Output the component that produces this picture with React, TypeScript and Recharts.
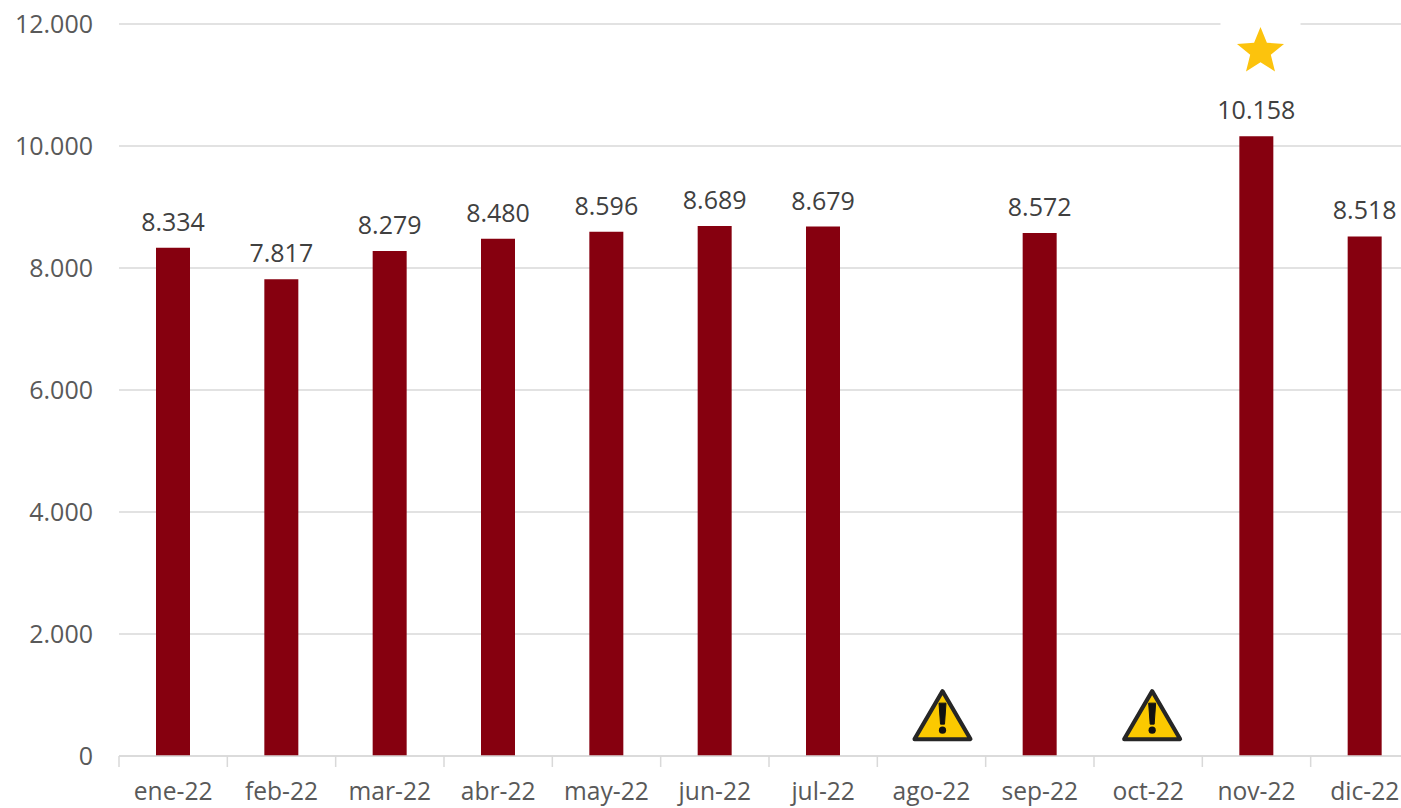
import { Bar, BarChart, CartesianGrid, LabelList, ReferenceDot, XAxis, YAxis } from 'recharts';

const months = ['ene-22', 'feb-22', 'mar-22', 'abr-22', 'may-22', 'jun-22', 'jul-22', 'ago-22', 'sep-22', 'oct-22', 'nov-22', 'dic-22'];
const values = [8334, 7817, 8279, 8480, 8596, 8689, 8679, null, 8572, null, 10158, 8518];
const yTicks = [0, 2000, 4000, 6000, 8000, 10000, 12000];

const data = months.map((month, i) => ({ month, value: values[i] }));

const FONT = '"Open Sans", sans-serif';
const TEXT = '#595959';
const LINE = '#d9d9d9';
const STEP = 1300 / 12;

const formatValue = (v: number | string | null | undefined) =>
  v == null ? '' : String(v).replace(/\B(?=(\d{3})+$)/g, '.');

// Category ticks sit on the band edges, so the tick mark is drawn with the label
function MonthTick({ x, y, payload }: any) {
  return (
    <g>
      <line x1={x - STEP / 2} x2={x - STEP / 2} y1={y - 8} y2={y + 3} stroke={LINE} strokeWidth={1.5} />
      <text x={x} y={y + 36} textAnchor="middle" fontFamily={FONT} fontSize={24.6} fill={TEXT}>
        {payload.value}
      </text>
    </g>
  );
}

// The icons are pasted off-centre in the source, hence the dx
function WarningIcon({ cx, cy, dx }: any) {
  return (
    <g transform={`translate(${cx + dx},${cy})`}>
      <path d="M0 -24 L28 24 L-28 24 Z" fill="#fbc900" stroke="#262626" strokeWidth={4} strokeLinejoin="round" />
      <path d="M-3.5 -12 L3.5 -12 L2 9 L-2 9 Z" fill="#111" stroke="#111" strokeLinejoin="round" />
      <circle cx={0} cy={15} r={3.6} fill="#111" />
    </g>
  );
}

function StarIcon({ cx, cy }: any) {
  return (
    <g transform={`translate(${cx + 4},${cy})`}>
      <rect x={-40} y={-30} width={80} height={8} fill="#fff" />
      <path
        d="M0 -23 L6.4 -7.2 L23.5 -6 L10.3 4.9 L14.5 21.5 L0 12.4 L-14.5 21.5 L-10.3 4.9 L-23.5 -6 L-6.4 -7.2 Z"
        fill="#fcc30d"
      />
    </g>
  );
}

export default function App() {
  return (
    <div style={{ position: 'absolute', left: 0, top: 0, width: 1401, height: 808, overflow: 'hidden', background: '#fff' }}>
      <BarChart
        width={1420}
        height={808}
        data={data}
        margin={{ top: 24, right: 1, bottom: 0, left: 0 }}
      >
        <CartesianGrid vertical={false} stroke={LINE} strokeWidth={1.5} />
        <XAxis
          dataKey="month"
          height={52}
          interval={0}
          axisLine={{ stroke: LINE, strokeWidth: 1.5 }}
          tickLine={false}
          tick={<MonthTick />}
        />
        <YAxis
          width={119}
          domain={[0, 12000]}
          ticks={yTicks}
          axisLine={false}
          tickLine={false}
          tickMargin={20}
          tickFormatter={formatValue}
          tick={{ fontFamily: FONT, fontSize: 25, fill: TEXT }}
        />
        <Bar dataKey="value" fill="#86000f" barSize={34} isAnimationActive={false}>
          <LabelList
            dataKey="value"
            position="top"
            offset={17}
            formatter={formatValue}
            style={{ fontFamily: FONT, fontSize: 25, fill: '#404040' }}
          />
        </Bar>
        <ReferenceDot x="ago-22" y={670} ifOverflow="visible" shape={<WarningIcon dx={11} />} />
        <ReferenceDot x="oct-22" y={670} ifOverflow="visible" shape={<WarningIcon dx={4} />} />
        <ReferenceDot x="nov-22" y={11575} ifOverflow="visible" shape={<StarIcon />} />
      </BarChart>
    </div>
  );
}
